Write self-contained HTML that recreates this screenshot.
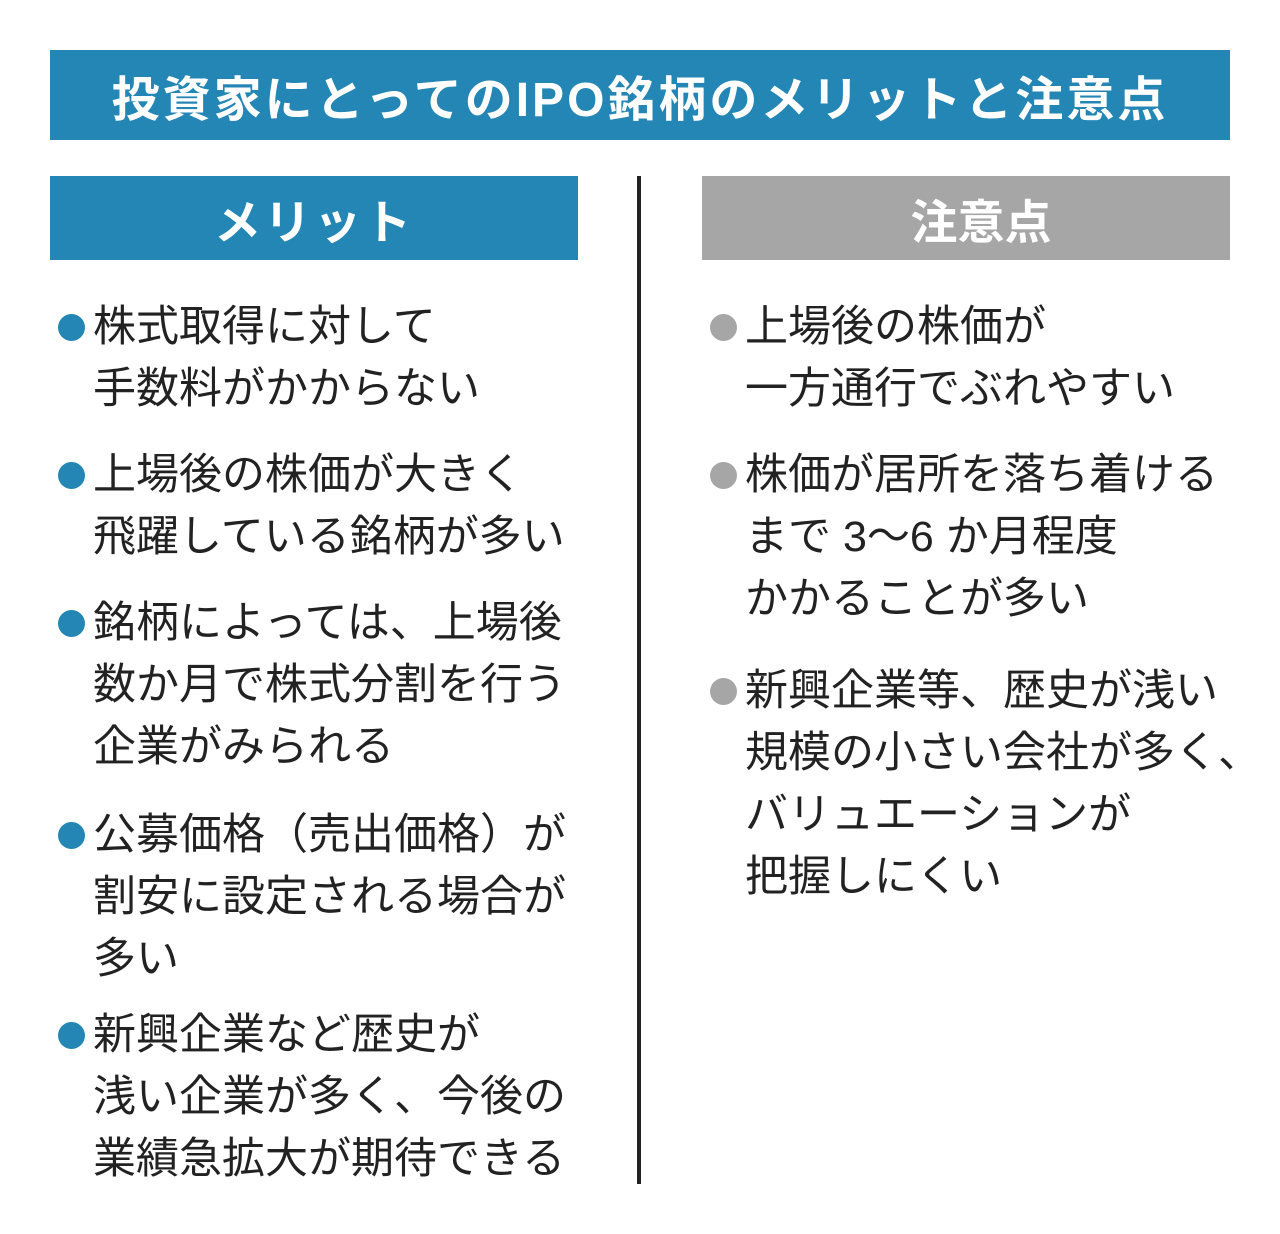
<!DOCTYPE html>
<html><head><meta charset="utf-8"><style>
body{margin:0;width:1280px;height:1234px;background:#fff;position:relative;overflow:hidden;font-family:"Liberation Sans","Noto Sans CJK JP",sans-serif;}
.bar{position:absolute;color:#fff;font-weight:bold;display:flex;align-items:center;justify-content:center;box-sizing:border-box;}
.l{position:absolute;font-size:43px;line-height:62px;height:62px;color:#222;white-space:nowrap;}
.d{position:absolute;width:27px;height:27px;border-radius:50%;}
</style></head><body>
<div class="bar" style="left:50px;top:50px;width:1180px;height:90px;background:#2386b4;font-size:48px;letter-spacing:3px;">投資家にとってのIPO銘柄のメリットと注意点</div>
<div class="bar" style="left:50px;top:176px;width:528px;height:84px;background:#2386b4;font-size:47px;letter-spacing:3px;">メリット</div>
<div class="bar" style="left:702px;top:176px;width:528px;height:84px;background:#a6a6a6;font-size:47px;padding-left:30px;">注意点</div>
<div style="position:absolute;left:637px;top:176px;width:4px;height:1008px;background:#222;"></div>

<div class="d" style="left:58px;top:314px;background:#2386b4"></div>
<div class="l" style="left:93px;top:296px">株式取得に対して</div>
<div class="l" style="left:93px;top:358px">手数料がかからない</div>
<div class="d" style="left:58px;top:462px;background:#2386b4"></div>
<div class="l" style="left:93px;top:444px">上場後の株価が大きく</div>
<div class="l" style="left:93px;top:506px">飛躍している銘柄が多い</div>
<div class="d" style="left:58px;top:610px;background:#2386b4"></div>
<div class="l" style="left:93px;top:592px">銘柄によっては、上場後</div>
<div class="l" style="left:93px;top:654px">数か月で株式分割を行う</div>
<div class="l" style="left:93px;top:716px">企業がみられる</div>
<div class="d" style="left:58px;top:822px;background:#2386b4"></div>
<div class="l" style="left:93px;top:804px">公募価格（売出価格）が</div>
<div class="l" style="left:93px;top:866px">割安に設定される場合が</div>
<div class="l" style="left:93px;top:928px">多い</div>
<div class="d" style="left:58px;top:1022px;background:#2386b4"></div>
<div class="l" style="left:93px;top:1004px">新興企業など歴史が</div>
<div class="l" style="left:93px;top:1066px">浅い企業が多く、今後の</div>
<div class="l" style="left:93px;top:1128px">業績急拡大が期待できる</div>

<div class="d" style="left:710px;top:314px;background:#a6a6a6"></div>
<div class="l" style="left:745px;top:296px">上場後の株価が</div>
<div class="l" style="left:745px;top:358px">一方通行でぶれやすい</div>
<div class="d" style="left:710px;top:462px;background:#a6a6a6"></div>
<div class="l" style="left:745px;top:444px">株価が居所を落ち着ける</div>
<div class="l" style="left:745px;top:506px">まで 3～6 か月程度</div>
<div class="l" style="left:745px;top:568px">かかることが多い</div>
<div class="d" style="left:710px;top:678px;background:#a6a6a6"></div>
<div class="l" style="left:745px;top:660px">新興企業等、歴史が浅い</div>
<div class="l" style="left:745px;top:722px">規模の小さい会社が多く、</div>
<div class="l" style="left:745px;top:784px">バリュエーションが</div>
<div class="l" style="left:745px;top:846px">把握しにくい</div>
</body></html>
